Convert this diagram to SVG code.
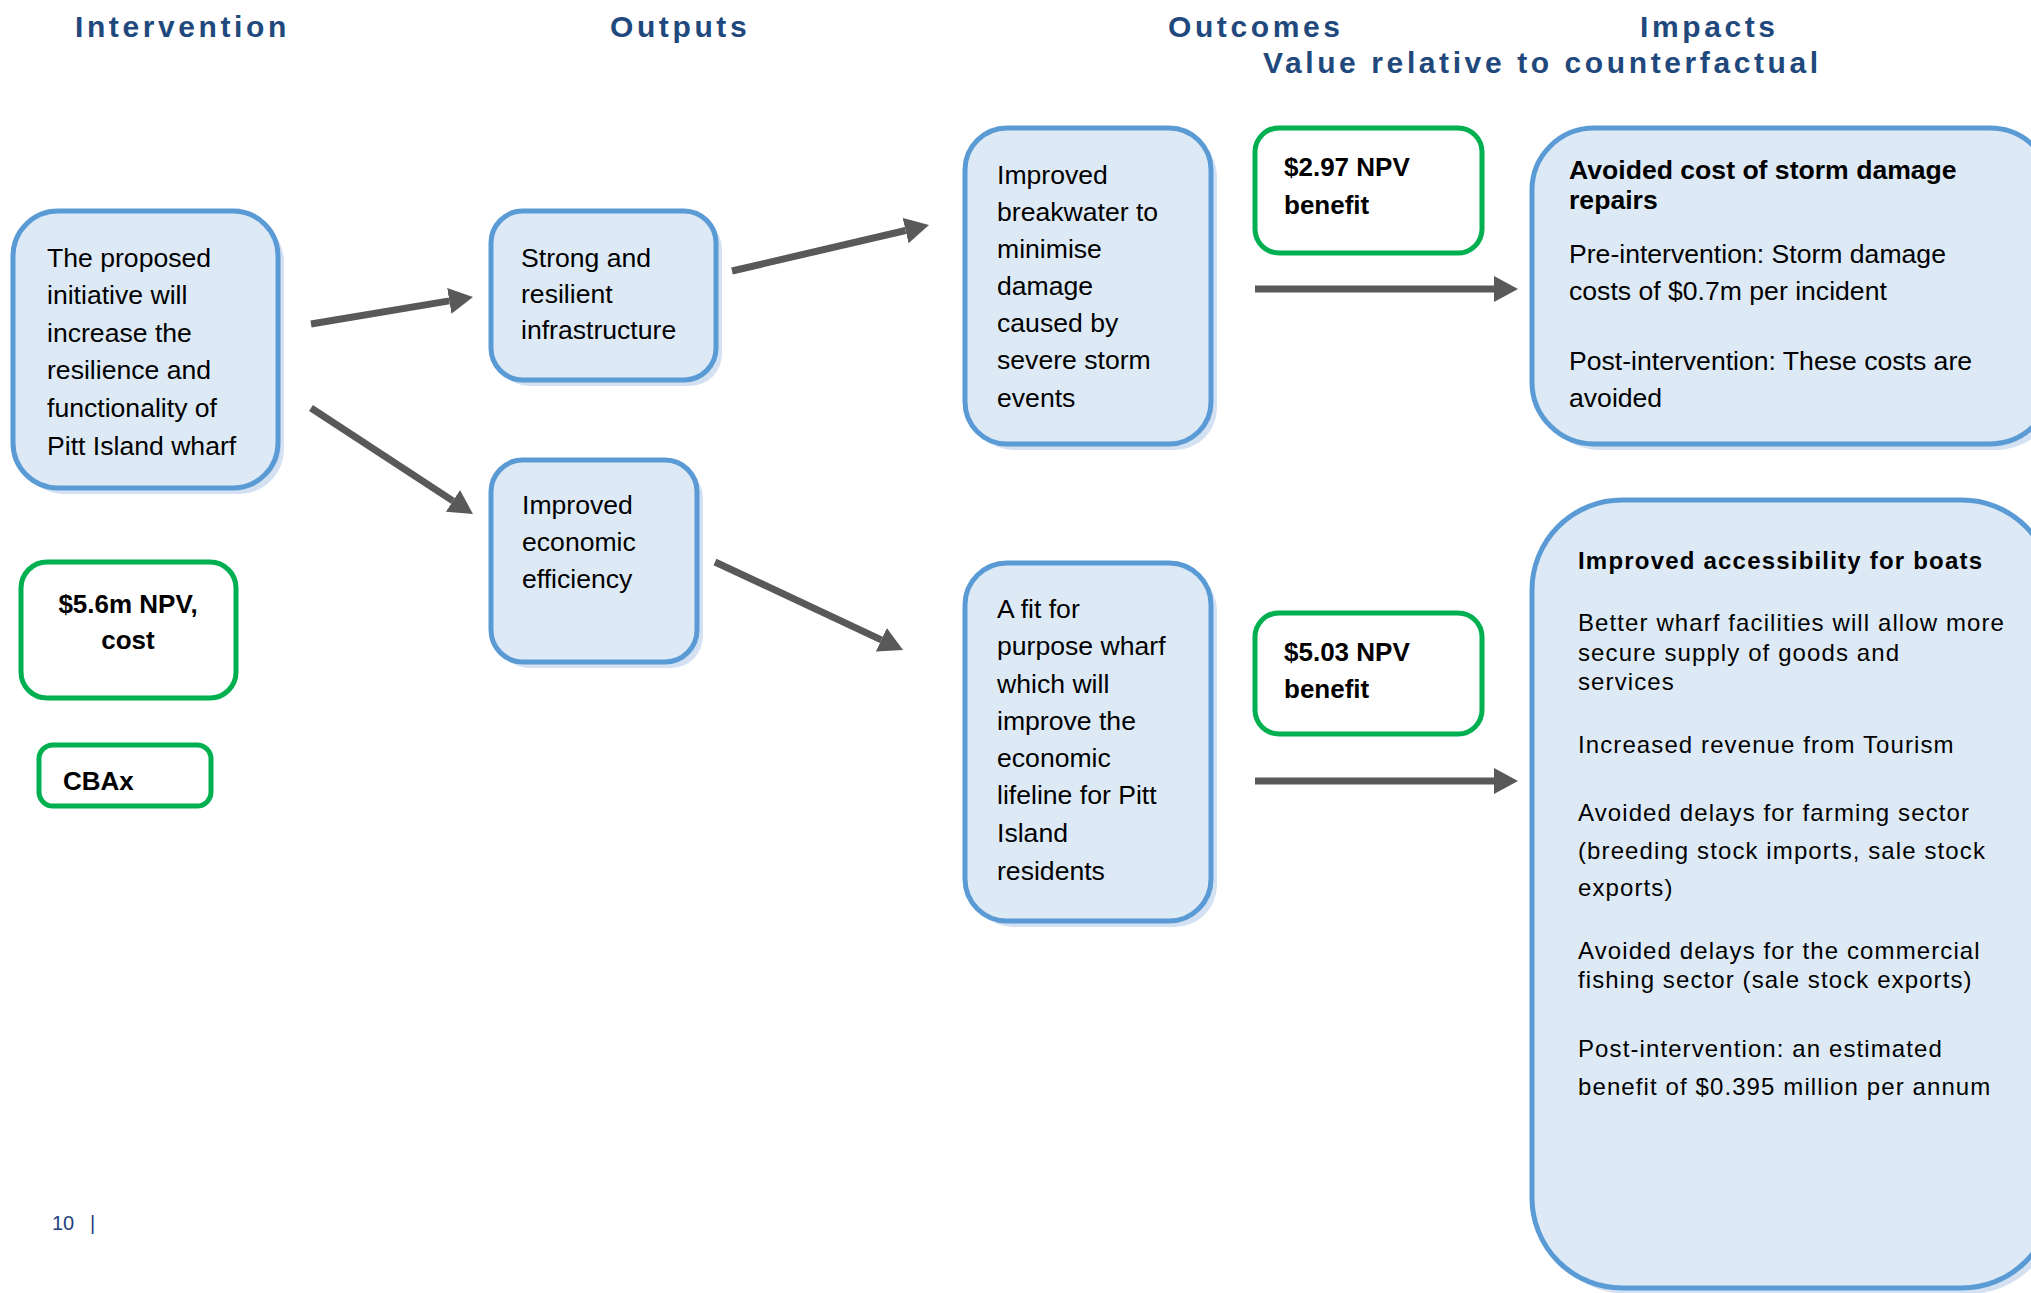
<svg xmlns="http://www.w3.org/2000/svg" width="2031" height="1293" viewBox="0 0 2031 1293">
<style>
.hdr{font-family:"Liberation Sans",Arial,sans-serif;font-weight:bold;font-size:30px;letter-spacing:3.6px;fill:#1F497D}
.box{fill:#DDEAF6;stroke:#5B9BD5;stroke-width:5}
.sh{fill:#D3E1F2}
.gbox{fill:#FFFFFF;stroke:#00B050;stroke-width:5}
.t{font-family:"Liberation Sans",Arial,sans-serif;font-size:26.6px;fill:#000}
.tb{font-family:"Liberation Sans",Arial,sans-serif;font-size:26.6px;font-weight:bold;fill:#000}
.gb{font-family:"Liberation Sans",Arial,sans-serif;font-size:26px;font-weight:bold;fill:#000}
.tw{font-family:"Liberation Sans",Arial,sans-serif;font-size:24px;letter-spacing:1.1px;fill:#000}
.twb{font-family:"Liberation Sans",Arial,sans-serif;font-size:24px;font-weight:bold;letter-spacing:1.2px;fill:#000}
.conn{stroke:#595959;stroke-width:7;fill:none;marker-end:url(#ah)}
.pg{font-family:"Liberation Sans",Arial,sans-serif;font-size:20px;fill:#1F3F7F}
</style>
<defs>
<marker id="ah" markerUnits="userSpaceOnUse" viewBox="0 -14 25 28" refX="0" refY="0" markerWidth="25" markerHeight="28" orient="auto">
<path d="M0,-13 L24,0 L0,13 Z" fill="#595959"/>
</marker>
</defs>
<rect width="2031" height="1293" fill="#FFFFFF"/>
<g id="headers">
<text class="hdr" x="75" y="37">Intervention</text>
<text class="hdr" x="610" y="37">Outputs</text>
<text class="hdr" x="1168" y="37">Outcomes</text>
<text class="hdr" x="1640" y="37">Impacts</text>
<text class="hdr" x="1263" y="73">Value relative to counterfactual</text>
</g>
<g id="connectors">
<path class="conn" d="M311,324 L449.3,300.9"/>
<path class="conn" d="M311,408 L452.9,500.9"/>
<path class="conn" d="M732,271 L905.6,230.5"/>
<path class="conn" d="M715,562 L881.3,639.8"/>
<path class="conn" d="M1255,289 L1494,289"/>
<path class="conn" d="M1255,781 L1494,781"/>
</g>
<g id="intervention">
<rect class="sh" x="19" y="217" width="265" height="277" rx="45"/>
<rect class="box" x="13" y="211" width="265" height="277" rx="45"/>
<text class="t" x="47" y="267">The proposed</text>
<text class="t" x="47" y="304">initiative will</text>
<text class="t" x="47" y="342">increase the</text>
<text class="t" x="47" y="379">resilience and</text>
<text class="t" x="47" y="417">functionality of</text>
<text class="t" x="47" y="455">Pitt Island wharf</text>
</g>
<g id="cost">
<rect class="gbox" x="21" y="562" width="215" height="136" rx="26"/>
<text class="gb" x="128" y="613" text-anchor="middle">$5.6m NPV,</text>
<text class="gb" x="128" y="649" text-anchor="middle">cost</text>
</g>
<g id="cbax">
<rect class="gbox" x="39" y="745" width="172" height="61" rx="14"/>
<text class="gb" x="63" y="790">CBAx</text>
</g>
<g id="output1">
<rect class="sh" x="497" y="217" width="225" height="169" rx="32"/>
<rect class="box" x="491" y="211" width="225" height="169" rx="32"/>
<text class="t" x="521" y="267">Strong and</text>
<text class="t" x="521" y="303">resilient</text>
<text class="t" x="521" y="339">infrastructure</text>
</g>
<g id="output2">
<rect class="sh" x="497" y="466" width="206" height="202" rx="32"/>
<rect class="box" x="491" y="460" width="206" height="202" rx="32"/>
<text class="t" x="522" y="514">Improved</text>
<text class="t" x="522" y="551">economic</text>
<text class="t" x="522" y="588">efficiency</text>
</g>
<g id="outcome1">
<rect class="sh" x="971" y="134" width="246" height="316" rx="42"/>
<rect class="box" x="965" y="128" width="246" height="316" rx="42"/>
<text class="t" x="997" y="184">Improved</text>
<text class="t" x="997" y="221">breakwater to</text>
<text class="t" x="997" y="258">minimise</text>
<text class="t" x="997" y="295">damage</text>
<text class="t" x="997" y="332">caused by</text>
<text class="t" x="997" y="369">severe storm</text>
<text class="t" x="997" y="407">events</text>
</g>
<g id="outcome2">
<rect class="sh" x="971" y="569" width="246" height="358" rx="42"/>
<rect class="box" x="965" y="563" width="246" height="358" rx="42"/>
<text class="t" x="997" y="618">A fit for</text>
<text class="t" x="997" y="655">purpose wharf</text>
<text class="t" x="997" y="693">which will</text>
<text class="t" x="997" y="730">improve the</text>
<text class="t" x="997" y="767">economic</text>
<text class="t" x="997" y="804">lifeline for Pitt</text>
<text class="t" x="997" y="842">Island</text>
<text class="t" x="997" y="880">residents</text>
</g>
<g id="benefit1">
<rect class="gbox" x="1255" y="128" width="227" height="125" rx="24"/>
<text class="gb" x="1284" y="176">$2.97 NPV</text>
<text class="gb" x="1284" y="214">benefit</text>
</g>
<g id="benefit2">
<rect class="gbox" x="1255" y="613" width="227" height="121" rx="24"/>
<text class="gb" x="1284" y="661">$5.03 NPV</text>
<text class="gb" x="1284" y="698">benefit</text>
</g>
<g id="impact1">
<rect class="sh" x="1538" y="134" width="520" height="316" rx="62"/>
<rect class="box" x="1532" y="128" width="520" height="316" rx="62"/>
<text class="tb" x="1569" y="179">Avoided cost of storm damage</text>
<text class="tb" x="1569" y="209">repairs</text>
<text class="t" x="1569" y="263">Pre-intervention: Storm damage</text>
<text class="t" x="1569" y="300">costs of $0.7m per incident</text>
<text class="t" x="1569" y="370">Post-intervention: These costs are</text>
<text class="t" x="1569" y="407">avoided</text>
</g>
<g id="impact2">
<rect class="sh" x="1538" y="506" width="520" height="788" rx="90"/>
<rect class="box" x="1532" y="500" width="520" height="788" rx="90"/>
<text class="twb" x="1578" y="569">Improved accessibility for boats</text>
<text class="tw" x="1578" y="631">Better wharf facilities will allow more</text>
<text class="tw" x="1578" y="661">secure supply of goods and</text>
<text class="tw" x="1578" y="690">services</text>
<text class="tw" x="1578" y="753">Increased revenue from Tourism</text>
<text class="tw" x="1578" y="821">Avoided delays for farming sector</text>
<text class="tw" x="1578" y="859">(breeding stock imports, sale stock</text>
<text class="tw" x="1578" y="896">exports)</text>
<text class="tw" x="1578" y="959">Avoided delays for the commercial</text>
<text class="tw" x="1578" y="988">fishing sector (sale stock exports)</text>
<text class="tw" x="1578" y="1057">Post-intervention: an estimated</text>
<text class="tw" x="1578" y="1095">benefit of $0.395 million per annum</text>
</g>
<g id="page">
<text class="pg" x="52" y="1230">10</text>
<text class="pg" x="90" y="1230">|</text>
</g>
</svg>
